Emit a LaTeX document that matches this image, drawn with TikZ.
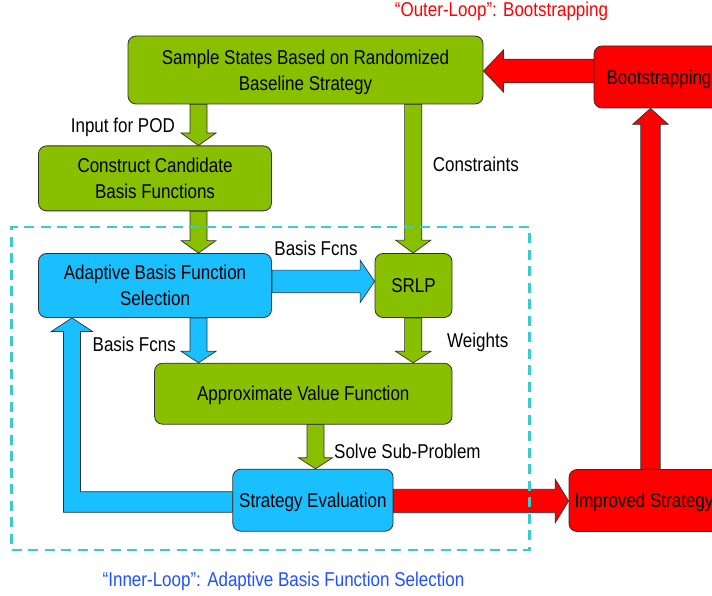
\documentclass[tikz,border=0pt]{standalone}
\usepackage{fontspec}
\setmainfont{Liberation Sans}[FakeStretch=0.85]
\usetikzlibrary{calc}
\pgfdeclarelayer{bg}
\pgfsetlayers{bg,main}
\definecolor{grn}{HTML}{88C000}
\definecolor{blu}{HTML}{1ABFFF}
\definecolor{rd}{HTML}{FF0000}
\definecolor{dashcol}{HTML}{3CCACA}
\definecolor{innertxt}{HTML}{2050FF}
\definecolor{outl}{HTML}{303030}

\newcommand\blkdown[6]{\draw[#1] let \p1=(#2),\p2=(#3) in (\x1-#4,\y1) -- (\x1-#4,\y2+#6) -- (\x1-#5,\y2+#6) -- (\x1,\y2) -- (\x1+#5,\y2+#6) -- (\x1+#4,\y2+#6) -- (\x1+#4,\y1) -- cycle;}
\newcommand\blkup[6]{\draw[#1] let \p1=(#2),\p2=(#3) in (\x1-#4,\y1) -- (\x1-#4,\y2-#6) -- (\x1-#5,\y2-#6) -- (\x1,\y2) -- (\x1+#5,\y2-#6) -- (\x1+#4,\y2-#6) -- (\x1+#4,\y1) -- cycle;}
\newcommand\blkright[6]{\draw[#1] let \p1=(#2),\p2=(#3) in (\x1,\y1+#4) -- (\x2-#6,\y1+#4) -- (\x2-#6,\y1+#5) -- (\x2,\y1) -- (\x2-#6,\y1-#5) -- (\x2-#6,\y1-#4) -- (\x1,\y1-#4) -- cycle;}
\newcommand\blkleft[6]{\draw[#1] let \p1=(#2),\p2=(#3) in (\x1,\y1+#4) -- (\x2+#6,\y1+#4) -- (\x2+#6,\y1+#5) -- (\x2,\y1) -- (\x2+#6,\y1-#5) -- (\x2+#6,\y1-#4) -- (\x1,\y1-#4) -- cycle;}

\tikzset{
  box/.style={draw=outl, line width=0.8pt, rounded corners=8pt, inner sep=0pt, align=center, text depth=0pt, font=\fontsize{20}{25.7}\selectfont},
  greenbox/.style={box, fill=grn},
  bluebox/.style={box, fill=blu},
  redbox/.style={box, fill=rd},
  lbl/.style={inner sep=0pt, font=\fontsize{20}{24}\selectfont},
  greenarrow/.style={draw=outl, line width=0.7pt, fill=grn, line join=miter},
  bluearrow/.style={draw=outl, line width=0.7pt, fill=blu, line join=miter},
  redarrow/.style={draw=outl, line width=0.7pt, fill=rd, line join=miter},
}

\begin{document}
\begin{tikzpicture}[x=1pt,y=-1pt]
\useasboundingbox (0,0) rectangle (712,596);
\clip (0,0) rectangle (712,596);

% column / row helpers
\coordinate (c1) at (198.5,0);
\coordinate (c2) at (413.2,0);
\coordinate (c3) at (315.5,0);
\coordinate (c4) at (650.5,0);
\coordinate (r1) at (0,71);
\coordinate (r2) at (0,501);
\coordinate (r3) at (0,281.4);
\coordinate (fb) at (72,502);

% boxes
\node[greenbox, minimum width=355pt, minimum height=68pt] (sample) at (305.5,70) {Sample States Based on Randomized\\Baseline Strategy};
\node[redbox, minimum width=130pt, minimum height=62pt] (boot) at (659,77) {Bootstrapping};
\node[greenbox, minimum width=233pt, minimum height=65pt] (construct) at (155,178.4) {Construct Candidate\\Basis Functions};
\node[bluebox, minimum width=233pt, minimum height=64pt] (adaptive) at (155,285.5) {Adaptive Basis Function\\Selection};
\node[greenbox, minimum width=77pt, minimum height=64pt] (srlp) at (413.5,285.5) {SRLP};
\node[greenbox, minimum width=297.5pt, minimum height=61pt] (approx) at (303.3,393.7) {Approximate Value Function};
\node[bluebox, minimum width=160.3pt, minimum height=62pt] (streval) at (312.9,500.2) {Strategy Evaluation};
\node[redbox, minimum width=150pt, minimum height=62pt] (improved) at (644,500.5) {Improved Strategy};

% block arrows (behind the boxes)
\begin{pgfonlayer}{bg}
\blkdown{greenarrow}{sample.south -| c1}{construct.north -| c1}{8.5pt}{17.5pt}{12.5pt}
\blkdown{greenarrow}{construct.south -| c1}{adaptive.north -| c1}{8.5pt}{17.5pt}{12.5pt}
\blkdown{bluearrow}{adaptive.south -| c1}{approx.north -| c1}{8.5pt}{17.5pt}{11.5pt}
\blkdown{greenarrow}{sample.south -| c2}{srlp.north -| c2}{8.6pt}{17.7pt}{13pt}
\blkdown{greenarrow}{srlp.south -| c2}{approx.north -| c2}{8.6pt}{17.7pt}{11.5pt}
\blkdown{greenarrow}{approx.south -| c3}{streval.north -| c3}{8.5pt}{17pt}{11pt}
\blkright{bluearrow}{adaptive.east |- r3}{srlp.west |- r3}{11.3pt}{21.3pt}{14.5pt}
\blkright{redarrow}{streval.east |- r2}{improved.west |- r2}{11.7pt}{22pt}{13.5pt}
\blkup{redarrow}{improved.north -| c4}{boot.south -| c4}{9.7pt}{17.8pt}{16pt}
\blkleft{redarrow}{boot.west |- r1}{sample.east |- r1}{11.8pt}{21pt}{20pt}
% feedback arrow: Strategy Evaluation -> Adaptive Basis Function Selection
\draw[bluearrow] let \p1=(streval.west |- fb), \p2=(adaptive.south -| fb) in
  (\x1,\y1+10.3pt) -- (\x2+8.45pt,\y1+10.3pt) -- (\x2+8.45pt,\y2-13.5pt) -- (\x2+20.4pt,\y2-13.5pt)
  -- (\x2,\y2) -- (\x2-20.6pt,\y2-13.5pt) -- (\x2-8.45pt,\y2-13.5pt) -- (\x2-8.45pt,\y1-10.3pt)
  -- (\x1,\y1-10.3pt) -- cycle;
\end{pgfonlayer}

% inner loop frame
\node[draw=dashcol, line width=2.4pt, dash pattern=on 10pt off 6.5pt, minimum width=518pt, minimum height=323.3pt, inner sep=0pt] (inner) at (270.5,388.4) {};

% labels
\node[lbl, anchor=east] (lpod) at (175,127) {Input for POD};
\node[lbl, anchor=west] (lcons) at (432.7,164) {Constraints};
\node[lbl] (lbf1) at (316,248.3) {Basis Fcns};
\node[lbl, anchor=east] (lbf2) at (176,344.3) {Basis Fcns};
\node[lbl, anchor=west] (lw) at (447,342.7) {Weights};
\node[lbl, anchor=west] (lsolve) at (334,451.7) {Solve Sub-Problem};
\node[lbl, text=rd] (outer) at (501.5,11.7) {“Outer-Loop”: Bootstrapping};
\node[lbl, text=innertxt] (innerlbl) at (283.5,581) {“Inner-Loop”: Adaptive Basis Function Selection};
\end{tikzpicture}
\end{document}
